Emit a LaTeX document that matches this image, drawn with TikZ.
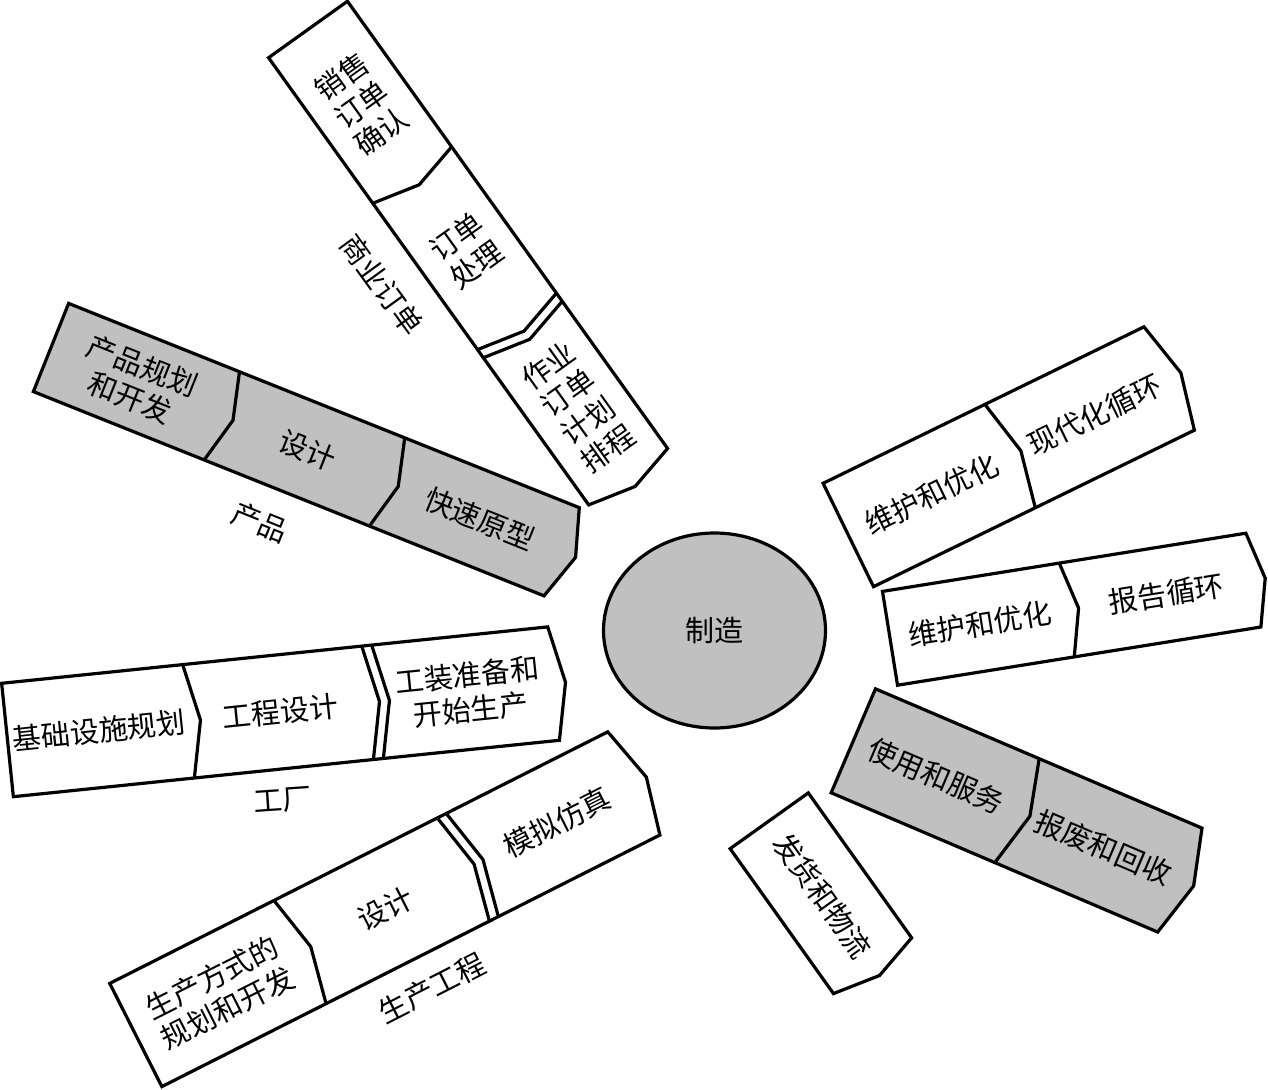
\documentclass[tikz,border=0pt]{standalone}
\usepackage{fontspec}
\setmainfont{Noto Sans CJK SC}
\usetikzlibrary{shapes.geometric}
\definecolor{bandgray}{RGB}{192,192,192}

\begin{document}
\begin{tikzpicture}[
    x=1pt,y=-1pt,
    seg/.style={draw=black,line width=3.2pt,line join=miter,fill=white},
    greyseg/.style={seg,fill=bandgray},
    divline/.style={draw=black,line width=3.2pt,line join=miter},
    txt/.style={font=\fontsize{29}{34}\selectfont,align=center,inner sep=0pt},
    hub/.style={ellipse,draw=black,line width=3.2pt,fill=bandgray,
                minimum width=222pt,minimum height=195pt,
                font=\fontsize{29}{34}\selectfont}
]
  \useasboundingbox (0,0) rectangle (1268,1089);

  % Commercial order chain, pointing down to the hub.
  \begin{scope}[shift={(308,29.5)},rotate=-54.4]
    \def\hw{48.5}\def\dep{12}
    \draw[seg] (0,-\hw) -- (550,-\hw) -- (550+\dep,0) -- (550,\hw) -- (0,\hw) -- cycle;
    \foreach \u in {179,359,369}
      \draw[divline] (\u,-\hw) -- (\u+12,0) -- (\u,\hw);
    \node[txt,rotate=35.6] (xiaoshou) at (92,0)  {销售\\订单\\确认};
    \node[txt,rotate=35.6] (dingdan)  at (272,0) {订单\\处理};
    \node[txt,rotate=35.6] (zuoye)    at (464,0) {作业\\订单\\计划\\排程};
  \end{scope}

  % Product chain (grey).
  \begin{scope}[shift={(51,347.5)},rotate=-21.8]
    \def\hw{47.5}\def\dep{15}
    \draw[greyseg] (0,-\hw) -- (550,-\hw) -- (550+\dep,0) -- (550,\hw) -- (0,\hw) -- cycle;
    \foreach \u in {184,362}
      \draw[divline] (\u,-\hw) -- (\u+12,0) -- (\u,\hw);
    \node[txt,rotate=-21.8] (guihua) at (92,0)  {产品规划\\和开发};
    \node[txt,rotate=-21.8] (sheji)  at (276,0) {设计};
    \node[txt,rotate=-21.8] (yuanxing) at (462,0) {快速原型};
  \end{scope}

  % Plant chain.
  \begin{scope}[shift={(7.5,740)},rotate=5.9]
    \def\hw{57}\def\dep{12}
    \draw[seg] (0,-\hw) -- (549,-\hw) -- (549+\dep,0) -- (549,\hw) -- (0,\hw) -- cycle;
    \foreach \u in {182,362,372}
      \draw[divline] (\u,-\hw) -- (\u+12,0) -- (\u,\hw);
    \node[txt,rotate=5.9] (jichu)   at (92,0)  {基础设施规划};
    \node[txt,rotate=5.9] (gongcheng) at (274,0) {工程设计};
    \node[txt,rotate=5.9] (gongzhuang) at (464,0) {工装准备和\\开始生产};
  \end{scope}

  % Production engineering chain.
  \begin{scope}[shift={(135.8,1035)},rotate=26.8]
    \def\hw{57.8}\def\dep{14}
    \draw[seg] (0,-\hw) -- (558,-\hw) -- (558+\dep,0) -- (558,\hw) -- (0,\hw) -- cycle;
    \foreach \u in {184,367,377}
      \draw[divline] (\u,-\hw) -- (\u+12,0) -- (\u,\hw);
    \node[txt,rotate=26.8] (fangshi) at (94,0)  {生产方式的\\规划和开发};
    \node[txt,rotate=26.8] (sheji2)  at (280,0) {设计};
    \node[txt,rotate=26.8] (moni)    at (472,0) {模拟仿真};
  \end{scope}

  % Right side: the two maintenance chains.
  \begin{scope}[shift={(848.3,535)},rotate=26]
    \def\hw{57.5}\def\dep{13}
    \draw[seg] (0,-\hw) -- (357,-\hw) -- (357+\dep,0) -- (357,\hw) -- (0,\hw) -- cycle;
    \draw[divline] (180,-\hw) -- (192,0) -- (180,\hw);
    \node[txt,rotate=26] (weihu1) at (93,0)  {维护和优化};
    \node[txt,rotate=26] (xiandai) at (274,0) {现代化循环};
  \end{scope}

  \begin{scope}[shift={(890,638.3)},rotate=9.1]
    \def\hw{47.5}\def\dep{12}
    \draw[seg] (0,-\hw) -- (368,-\hw) -- (368+\dep,0) -- (368,\hw) -- (0,\hw) -- cycle;
    \draw[divline] (179,-\hw) -- (191,0) -- (179,\hw);
    \node[txt,rotate=9.1] (weihu2) at (91,0)  {维护和优化};
    \node[txt,rotate=9.1] (baogao) at (280,0) {报告循环};
  \end{scope}

  % Use and disposal chain (grey).
  \begin{scope}[shift={(853.3,740.8)},rotate=-23.1]
    \def\hw{56.5}\def\dep{15}
    \draw[greyseg] (0,-\hw) -- (355,-\hw) -- (355+\dep,0) -- (355,\hw) -- (0,\hw) -- cycle;
    \draw[divline] (178,-\hw) -- (192,0) -- (178,\hw);
    \node[txt,rotate=-23.1] (shiyong) at (90,0)  {使用和服务};
    \node[txt,rotate=-23.1] (baofei)  at (272,0) {报废和回收};
  \end{scope}

  % Shipping box.
  \begin{scope}[shift={(769.2,820.8)},rotate=-54.5]
    \def\hw{48}\def\dep{12}
    \draw[seg] (0,-\hw) -- (178,-\hw) -- (178+\dep,0) -- (178,\hw) -- (0,\hw) -- cycle;
    \node[txt,rotate=-54.5] (fahuo) at (92,0) {发货和物流};
  \end{scope}

  \node[hub] (zhizao) at (714.5,630.5) {制造};

  % Chain captions.
  \node[txt,rotate=-54]  (shangye)   at (382,285) {商业订单};
  \node[txt,rotate=-22]  (chanpin)   at (260,522) {产品};
  \node[txt,rotate=4]    (gongchang) at (283,800) {工厂};
  \node[txt,rotate=27]   (shengchan) at (432,988) {生产工程};
\end{tikzpicture}
\end{document}
